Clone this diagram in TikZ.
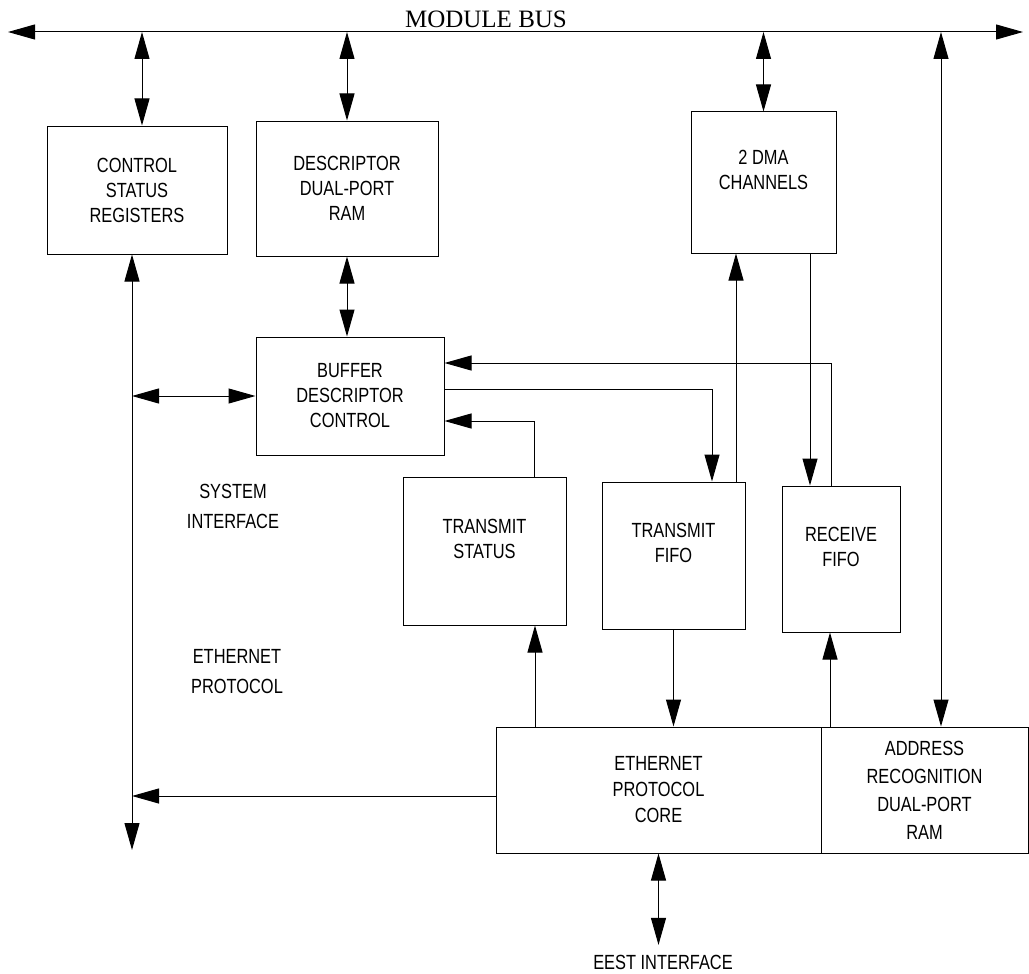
\documentclass[tikz,border=0pt]{standalone}
\usepackage{fontspec}
\usepackage{tikz}
\usetikzlibrary{arrows.meta,calc}
\setmainfont{Liberation Serif}
\newfontfamily\narrowsf[FakeStretch=0.8]{Liberation Sans}

\begin{document}
\begin{tikzpicture}[x=1pt,y=-1pt,line width=1pt,
  >={Triangle[length=27pt,width=15pt]},
  blk/.style={draw,align=center,font=\narrowsf\fontsize{20.5}{25}\selectfont},
  txt/.style={align=center,font=\narrowsf\fontsize{20.5}{30}\selectfont}]
\useasboundingbox (0,0) rectangle (1029,974);

\node[blk,minimum width=180pt,minimum height=128pt] (csr) at (137,190) {CONTROL\\STATUS\\REGISTERS};
\node[blk,minimum width=182pt,minimum height=135pt] (dpram) at (347,188.5) {DESCRIPTOR\\DUAL-PORT\\RAM};
\node[blk,minimum width=145pt,minimum height=141pt] (dma) at (763.5,182.5) {2 DMA\\CHANNELS\\~};
\node[blk,minimum width=188pt,minimum height=118pt] (bdc) at (350,396) {BUFFER\\DESCRIPTOR\\CONTROL};
\node[blk,minimum width=163pt,minimum height=148pt] (txstat) at (484.5,551) {TRANSMIT\\STATUS\\~};
\node[blk,minimum width=143pt,minimum height=147pt] (txfifo) at (673.5,555.5) {TRANSMIT\\FIFO\\~};
\node[blk,minimum width=118pt,minimum height=146pt] (rxfifo) at (841,559) {RECEIVE\\FIFO\\~};
\node[blk,minimum width=325pt,minimum height=126pt,
  font=\narrowsf\fontsize{20.5}{26}\selectfont] (epc) at (658.5,790) {ETHERNET\\PROTOCOL\\CORE};
\node[blk,minimum width=207pt,minimum height=126pt,
  font=\narrowsf\fontsize{20.5}{28}\selectfont] (addr) at (924.5,790) {ADDRESS\\RECOGNITION\\DUAL-PORT\\RAM};

\node[font=\fontsize{25}{30}\selectfont,anchor=base] (buslbl) at (486,28) {MODULE BUS};
\node[txt] (sysif) at (233,506) {SYSTEM\\INTERFACE};
\node[txt] (ethp) at (237,672) {ETHERNET\\PROTOCOL};
\node[txt] (eest) at (663,962) {EEST INTERFACE};

\coordinate (busL) at (8,32);
\coordinate (busR) at (1023,32);
\coordinate (sysend) at (132,850);

\draw[<->] (busL) -- (busR);
\draw[<->] (142,0 |- csr.north) -- (142,0 |- busL);
\draw[<->] (dpram.north) -- (dpram.north |- busL);
\draw[<->] (dma.north) -- (dma.north |- busL);
\draw[<->] (941,0 |- addr.north) -- (941,0 |- busL);
\draw[<->] (dpram.south) -- (dpram.south |- bdc.north);

\draw[<->] (sysend |- csr.south) -- (sysend);
\draw[<->] (bdc.west) -- (bdc.west -| sysend);
\draw[->] ([yshift=-6pt]epc.west) -- ([yshift=-6pt]epc.west -| sysend);
\draw[<->,shorten >=6pt] (epc.south) -- (epc.south |- eest.north);

\draw[->] (535,0 |- epc.north) -- (535,0 |- txstat.south);
\draw[->] (txfifo.south) -- (txfifo.south |- epc.north);
\draw[->] (830,0 |- epc.north) -- (830,0 |- rxfifo.south);
\draw[->] (736,0 |- txfifo.north) -- (736,0 |- dma.south);
\draw[->] (810,0 |- dma.south) -- (810,0 |- rxfifo.north);
\draw[->] (831,0 |- rxfifo.north) |- ([yshift=33pt]bdc.east);
\draw[->] ([yshift=7pt]bdc.east) -| (712,0 |- txfifo.north);
\draw[->] (534,0 |- txstat.north) |- ([yshift=-25pt]bdc.east);

\end{tikzpicture}
\end{document}
